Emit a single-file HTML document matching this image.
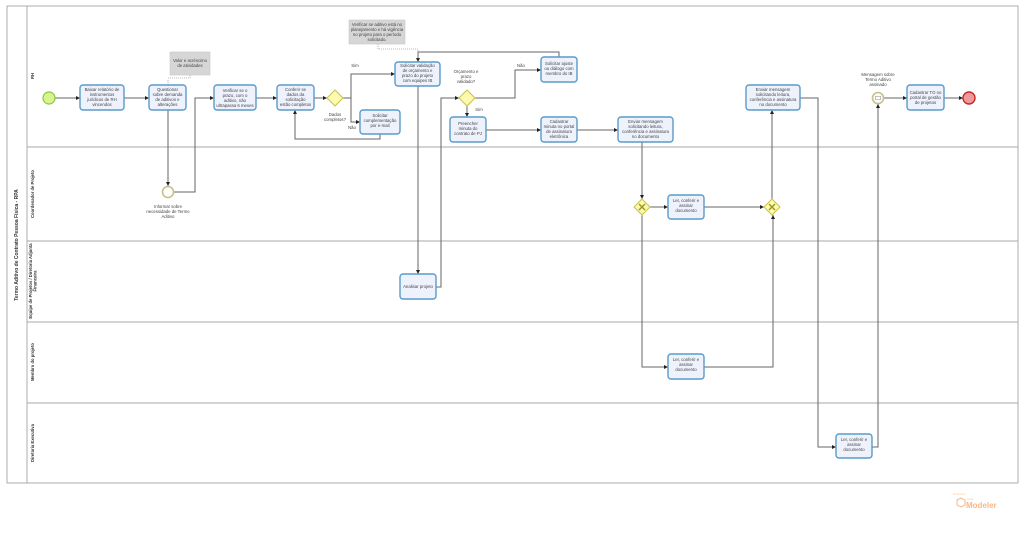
<!DOCTYPE html>
<html><head><meta charset="utf-8"><style>
html,body{margin:0;padding:0;background:#fff;width:1024px;height:542px;overflow:hidden}
svg{display:block;font-family:"Liberation Sans",sans-serif}
.t{fill:#eef2fd;stroke:#5a9bc9;stroke-width:1.4}
.tx{font-size:4.3px;fill:#444;text-anchor:middle}
.c{fill:none;stroke:#666;stroke-width:1}
.g{fill:#fdfab0;stroke:#c8c24a;stroke-width:1}
.ln{font-size:4.2px;fill:#333;font-weight:bold;text-anchor:middle}
.lb{font-size:4.3px;fill:#444;text-anchor:middle}
</style></head><body>
<svg width="1024" height="542" viewBox="0 0 1024 542">
<defs><marker id="a" viewBox="0 0 6 6" refX="6" refY="3" markerWidth="4" markerHeight="4" orient="auto"><path d="M0,0L6,3L0,6z" fill="#222"/></marker></defs>
<rect x="7" y="6" width="1011" height="477" fill="#fff" stroke="#999" stroke-width="0.8"/>
<line x1="27" y1="6" x2="27" y2="483" stroke="#999" stroke-width="0.8"/>
<g stroke="#aaa" stroke-width="0.9"><line x1="27" y1="147" x2="1018" y2="147"/><line x1="27" y1="241" x2="1018" y2="241"/><line x1="27" y1="322" x2="1018" y2="322"/><line x1="27" y1="403" x2="1018" y2="403"/></g>
<text transform="translate(18,245) rotate(-90)" class="ln" style="font-size:5px">Termo Aditivo de Contrato Pessoa Física - RPA</text>
<text transform="translate(34,76) rotate(-90)" class="ln">RH</text>
<text transform="translate(34,194) rotate(-90)" class="ln">Coordenador de Projeto</text>
<text transform="translate(32,281) rotate(-90)" class="ln"><tspan x="0">Equipe de Projetos / Diretoria Adjunta</tspan><tspan x="0" dy="4.5">Financeira</tspan></text>
<text transform="translate(34,362) rotate(-90)" class="ln">Membro do projeto</text>
<text transform="translate(34,443) rotate(-90)" class="ln">Diretoria Executiva</text>

<g class="c" marker-end="url(#a)">
<path d="M55,98H80"/><path d="M124,98H149"/>
<path d="M168,110V186"/>
<path d="M174,192H195V98H214"/>
<path d="M256,98H277"/><path d="M314,98H327"/>
<path d="M343,98H351V74H395"/>
<path d="M343,98H351V122H360"/>
<path d="M380,134V139H295V110"/>
<path d="M418,86V274"/>
<path d="M436,287H441V98H459"/>
<path d="M475,98H515V70H541"/>
<path d="M559,57V52H418V62"/>
<path d="M467,106V117"/>
<path d="M486,130H541"/><path d="M577,130H618"/>
<path d="M642,142V199"/>
<path d="M650,207H668"/><path d="M704,207H764"/>
<path d="M642,215V367H668"/>
<path d="M704,367H773V215"/>
<path d="M772,199V110"/>
<path d="M800,98H818V447H836"/>
<path d="M872,447H878V104"/>
<path d="M884,98H907"/><path d="M944,98H963"/>
</g>
<path d="M168,85V79" stroke="#777" stroke-width="0.6" stroke-dasharray="1,1" fill="none"/>
<path d="M168,78H190V75" stroke="#777" stroke-width="0.6" stroke-dasharray="1,1" fill="none"/>
<path d="M378,44V49H418V60" stroke="#777" stroke-width="0.6" stroke-dasharray="1,1" fill="none"/>

<rect x="170" y="52" width="40" height="23" fill="#d6d6d6" stroke="#c8c8c8" stroke-width="0.6"/>
<text class="tx"><tspan x="190" y="62">Valor e acréscimo</tspan><tspan x="190" y="67">de atividades</tspan></text>
<rect x="349" y="20" width="56" height="24" fill="#d6d6d6" stroke="#c8c8c8" stroke-width="0.6"/>
<text class="tx"><tspan x="377" y="26">Verificar se aditivo está no</tspan><tspan x="377" y="31">planejamento e há vigência</tspan><tspan x="377" y="36">no projeto para o período</tspan><tspan x="377" y="41">solicitado.</tspan></text>

<circle cx="49" cy="98" r="6" fill="#d6f58f" stroke="#8cc63f" stroke-width="1.2"/>
<circle cx="168" cy="192" r="5.5" fill="#fff" stroke="#c8c08a" stroke-width="1.6"/>
<circle cx="878" cy="98" r="5.5" fill="#fff" stroke="#c8c08a" stroke-width="1.6"/>
<rect x="875.5" y="96.3" width="5" height="3.5" fill="none" stroke="#888" stroke-width="0.5"/>
<circle cx="969" cy="98" r="6" fill="#ef9a9a" stroke="#c62828" stroke-width="1.4"/>

<path class="g" d="M335,90L343,98L335,106L327,98z"/>
<path class="g" d="M467,90L475,98L467,106L459,98z"/>
<path class="g" d="M642,199L650,207L642,215L634,207z"/>
<path class="g" d="M772,199L780,207L772,215L764,207z"/>
<g stroke="#9a9a20" stroke-width="1.5"><path d="M639,204l6,6M645,204l-6,6"/><path d="M769,204l6,6M775,204l-6,6"/></g>

<g>
<rect class="t" x="80" y="85" width="44" height="25" rx="3"/>
<text class="tx"><tspan x="102" y="91">Baixar relatório de</tspan><tspan x="102" y="96">instrumentos</tspan><tspan x="102" y="101">jurídicos de RH</tspan><tspan x="102" y="106">vincendos</tspan></text>
<rect class="t" x="149" y="85" width="37" height="25" rx="3"/>
<text class="tx"><tspan x="167.5" y="91">Questionar</tspan><tspan x="167.5" y="96">sobre demanda</tspan><tspan x="167.5" y="101">de aditivos e</tspan><tspan x="167.5" y="106">alterações</tspan></text>
<rect class="t" x="214" y="85" width="42" height="25" rx="3"/>
<text class="tx"><tspan x="235" y="92">Verificar se o</tspan><tspan x="235" y="97">prazo, com o</tspan><tspan x="235" y="102">aditivo, não</tspan><tspan x="235" y="107">ultrapassa 6 meses</tspan></text>
<rect class="t" x="277" y="85" width="37" height="25" rx="3"/>
<text class="tx"><tspan x="295.5" y="91">Conferir se</tspan><tspan x="295.5" y="96">dados da</tspan><tspan x="295.5" y="101">solicitação</tspan><tspan x="295.5" y="106">estão completos</tspan></text>
<rect class="t" x="360" y="110" width="40" height="24" rx="3"/>
<text class="tx"><tspan x="380" y="117">Solicitar</tspan><tspan x="380" y="122">complementação</tspan><tspan x="380" y="127">por e-mail</tspan></text>
<rect class="t" x="395" y="62" width="45" height="24" rx="3"/>
<text class="tx"><tspan x="417.5" y="67">Solicitar validação</tspan><tspan x="417.5" y="72">de orçamento e</tspan><tspan x="417.5" y="77">prazo do projeto</tspan><tspan x="417.5" y="82">com equipes IB</tspan></text>
<rect class="t" x="541" y="57" width="36" height="25" rx="3"/>
<text class="tx"><tspan x="559" y="65">Solicitar ajuste</tspan><tspan x="559" y="70">ou diálogo com</tspan><tspan x="559" y="75">membro do IB</tspan></text>
<rect class="t" x="450" y="117" width="36" height="25" rx="3"/>
<text class="tx"><tspan x="468" y="125">Preencher</tspan><tspan x="468" y="130">minuta do</tspan><tspan x="468" y="135">contrato de PJ</tspan></text>
<rect class="t" x="541" y="117" width="36" height="25" rx="3"/>
<text class="tx"><tspan x="559" y="123">Cadastrar</tspan><tspan x="559" y="128">minuta no portal</tspan><tspan x="559" y="133">de assinatura</tspan><tspan x="559" y="138">eletrônica</tspan></text>
<rect class="t" x="618" y="117" width="55" height="25" rx="3"/>
<text class="tx"><tspan x="645.5" y="123">Enviar mensagem</tspan><tspan x="645.5" y="128">solicitando leitura,</tspan><tspan x="645.5" y="133">conferência e assinatura</tspan><tspan x="645.5" y="138">no documento</tspan></text>
<rect class="t" x="746" y="85" width="54" height="25" rx="3"/>
<text class="tx"><tspan x="773" y="91">Enviar mensagem</tspan><tspan x="773" y="96">solicitando leitura,</tspan><tspan x="773" y="101">conferência e assinatura</tspan><tspan x="773" y="106">no documento</tspan></text>
<rect class="t" x="907" y="85" width="37" height="25" rx="3"/>
<text class="tx"><tspan x="925.5" y="94">Cadastrar TO no</tspan><tspan x="925.5" y="99">portal de gestão</tspan><tspan x="925.5" y="104">de projetos</tspan></text>
<rect class="t" x="668" y="195" width="36" height="24" rx="3"/>
<text class="tx"><tspan x="686" y="202">Ler, conferir e</tspan><tspan x="686" y="207">assinar</tspan><tspan x="686" y="212">documento</tspan></text>
<rect class="t" x="400" y="274" width="36" height="25" rx="3"/>
<text class="tx"><tspan x="418" y="288">Analisar projeto</tspan></text>
<rect class="t" x="668" y="354" width="36" height="25" rx="3"/>
<text class="tx"><tspan x="686" y="361">Ler, conferir e</tspan><tspan x="686" y="366">assinar</tspan><tspan x="686" y="371">documento</tspan></text>
<rect class="t" x="836" y="434" width="36" height="24" rx="3"/>
<text class="tx"><tspan x="854" y="441">Ler, conferir e</tspan><tspan x="854" y="446">assinar</tspan><tspan x="854" y="451">documento</tspan></text>
</g>

<text class="lb"><tspan x="335" y="116">Dados</tspan><tspan x="335" y="121">completos?</tspan></text>
<text class="lb" x="355" y="67">Sim</text>
<text class="lb" x="352" y="129">Não</text>
<text class="lb"><tspan x="466" y="73">Orçamento e</tspan><tspan x="466" y="78">prazo</tspan><tspan x="466" y="83">validado?</tspan></text>
<text class="lb" x="521" y="67">Não</text>
<text class="lb" x="479" y="111">Sim</text>
<text class="lb"><tspan x="168" y="208">Informar sobre</tspan><tspan x="168" y="213">necessidade de Termo</tspan><tspan x="168" y="218">Aditivo</tspan></text>
<text class="lb"><tspan x="878" y="76">Mensagem sobre</tspan><tspan x="878" y="81">Termo Aditivo</tspan><tspan x="878" y="86">assinado</tspan></text>

<text x="953" y="495" style="font-size:2.5px;fill:#f6c9a3">Powered by</text>
<path d="M957,500l4,-2l4,2v5l-4,2l-4,-2z" fill="none" stroke="#f6b888" stroke-width="1"/>
<text x="967" y="500" style="font-size:2.5px;fill:#f6c9a3">bizagi</text>
<text x="966" y="508" style="font-size:8px;fill:#f6b888;font-weight:bold">Modeler</text>
</svg>
</body></html>
